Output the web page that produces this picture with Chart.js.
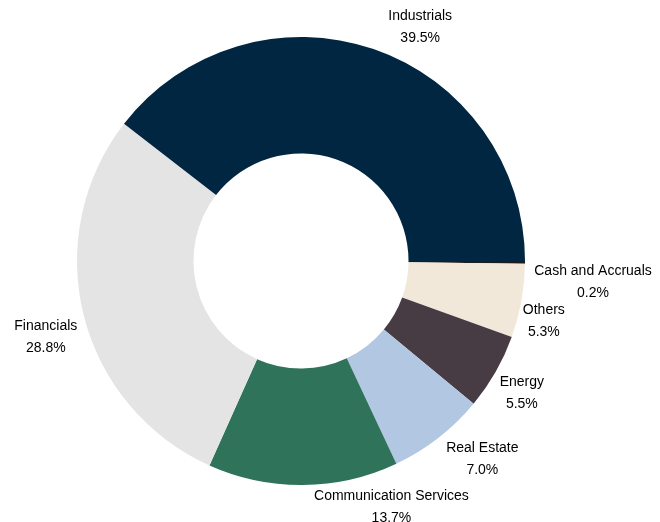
<!DOCTYPE html>
<html>
<head>
<meta charset="utf-8">
<script src="https://cdn.jsdelivr.net/npm/chart.js@4/dist/chart.umd.min.js"></script>
<style>
  html, body { margin: 0; padding: 0; background: #fff; }
  #wrap { width: 660px; height: 522px; }
</style>
</head>
<body>
<div id="wrap"><canvas id="c"></canvas></div>
<script>
// sectors, clockwise from 3 o'clock
const sectors = ['Cash and Accruals', 'Others', 'Energy', 'Real Estate', 'Communication Services', 'Financials', 'Industrials'];
const weights = [0.2, 5.3, 5.5, 7.0, 13.7, 28.8, 39.5];
const sectorColors = ['#1c1c1c', '#f1e8da', '#473c43', '#b2c7e1', '#2e735a', '#e4e4e4', '#012641'];
// label nudges (px) away from the default outside position
const labelNudge = [[32, 20], [-13, 14], [-5, 3], [22, -7], [88, -14], [-3, 13], [35, 12]];

const outsideLabels = {
  id: 'outsideLabels',
  afterDatasetsDraw(chart) {
    const ctx = chart.ctx;
    const meta = chart.getDatasetMeta(0);
    ctx.save();
    ctx.font = '14px "Liberation Sans", Arial, sans-serif';
    ctx.fillStyle = '#000';
    ctx.textAlign = 'center';
    ctx.textBaseline = 'middle';
    meta.data.forEach((arc, i) => {
      const mid = (arc.startAngle + arc.endAngle) / 2;
      const r = arc.outerRadius + 36;
      const x = arc.x + Math.cos(mid) * r + labelNudge[i][0];
      const y = arc.y + Math.sin(mid) * r + labelNudge[i][1];
      ctx.fillText(sectors[i], x, y - 11);
      ctx.fillText(weights[i].toFixed(1) + '%', x, y + 11);
    });
    ctx.restore();
  }
};

new Chart(document.getElementById('c'), {
  type: 'doughnut',
  data: {
    labels: sectors,
    datasets: [{
      data: weights,
      backgroundColor: sectorColors,
      borderWidth: 0,
    }]
  },
  options: {
    responsive: true,
    maintainAspectRatio: false,
    animation: false,
    rotation: 90,
    cutout: '48%',
    layout: { padding: { left: 77, right: 135, top: 37, bottom: 37 } },
    plugins: {
      legend: { display: false },
      tooltip: { enabled: false }
    }
  },
  plugins: [outsideLabels]
});
</script>
</body>
</html>
